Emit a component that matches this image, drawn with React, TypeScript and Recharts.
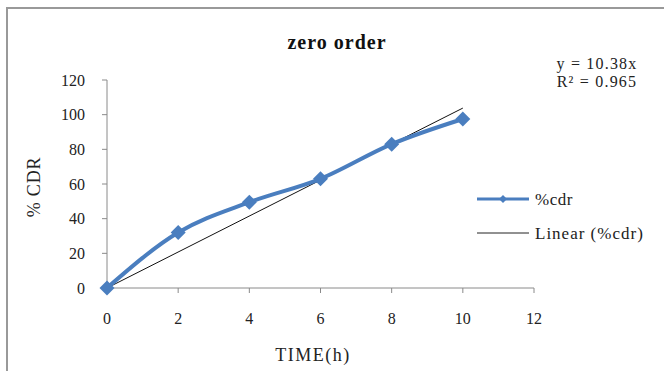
import { LineChart, Line, XAxis, YAxis } from "recharts";

const timeHours = [0, 2, 4, 6, 8, 10];
const cdrValues = [0, 32, 49.5, 63, 83, 97.5];
const trendTimes = [0, 10];
const trendValues = [0, 103.8];
const xTicks = [0, 2, 4, 6, 8, 10, 12];
const yTicks = [0, 20, 40, 60, 80, 100, 120];

const cdrData = timeHours.map((t, i) => ({ time: t, cdr: cdrValues[i] }));
const trendData = trendTimes.map((t, i) => ({ time: t, trend: trendValues[i] }));

const BLUE = "#4A7EBF";
const AXIS = "#8A8A8A";
const FONT = "'Liberation Serif', 'Times New Roman', serif";

const Diamond = (props: any) => {
  const { cx, cy } = props;
  if (cx == null || cy == null) return null;
  const r = 7.5;
  return (
    <polygon
      points={`${cx},${cy - r} ${cx + r},${cy} ${cx},${cy + r} ${cx - r},${cy}`}
      fill={BLUE}
    />
  );
};

const LegendBox = () => (
  <svg width={180} height={60} style={{ fontFamily: FONT, display: "block" }}>
    <line x1={0} y1={9} x2={52} y2={9} stroke={BLUE} strokeWidth={3} />
    <polygon points="26,5 30,9 26,13 22,9" fill={BLUE} />
    <text x={58} y={15} fontSize={17} fill="#222" letterSpacing={0.5}>%cdr</text>
    <line x1={0} y1={43} x2={52} y2={43} stroke="#222" strokeWidth={1} />
    <text x={58} y={49} fontSize={17} fill="#222" letterSpacing={1}>Linear (%cdr)</text>
  </svg>
);

export default function App() {
  return (
    <div
      style={{
        position: "absolute",
        left: 0,
        top: 0,
        width: 664,
        height: 371,
        background: "#fff",
        fontFamily: FONT,
      }}
    >
      <div
        style={{
          position: "absolute",
          left: 6,
          top: 7,
          width: 656,
          height: 370,
          borderLeft: "2px solid #999",
          borderTop: "2px solid #999",
          borderRight: "2px solid #bbb",
        }}
      />
      <LineChart
        width={664}
        height={371}
        margin={{ top: 80, right: 130, bottom: 53, left: 47 }}
        style={{ position: "absolute", left: 0, top: 0 }}
      >
        <XAxis
          dataKey="time"
          type="number"
          domain={[0, 12]}
          ticks={xTicks}
          allowDuplicatedCategory={false}
          height={30}
          tickSize={5}
          tickMargin={20}
          stroke={AXIS}
          tick={{ fill: "#222", fontSize: 16, fontFamily: FONT }}
        />
        <YAxis
          type="number"
          domain={[0, 120]}
          ticks={yTicks}
          width={60}
          tickSize={5}
          tickMargin={17}
          stroke={AXIS}
          tick={{ fill: "#222", fontSize: 16, fontFamily: FONT }}
        />
        <Line
          data={trendData}
          dataKey="trend"
          name="Linear (%cdr)"
          stroke="#111"
          strokeWidth={1}
          dot={false}
          activeDot={false}
          isAnimationActive={false}
        />
        <Line
          data={cdrData}
          dataKey="cdr"
          name="%cdr"
          type="monotone"
          stroke={BLUE}
          strokeWidth={4}
          dot={<Diamond />}
          activeDot={false}
          isAnimationActive={false}
        />
        <text x={337} y={49} textAnchor="middle" fontSize={20} fontWeight="bold" fontFamily={FONT} fill="#111" letterSpacing={1}>
          zero order
        </text>
        <text x={597} y={69} textAnchor="middle" fontSize={16} fontFamily={FONT} fill="#222" letterSpacing={1.2}>
          y = 10.38x
        </text>
        <text x={597} y={87} textAnchor="middle" fontSize={16} fontFamily={FONT} fill="#222" letterSpacing={1.2}>
          R² = 0.965
        </text>
        <text
          x={40}
          y={187}
          textAnchor="middle"
          fontSize={18}
          fontFamily={FONT}
          fill="#222"
          letterSpacing={0.8}
          transform="rotate(-90 40 187)"
        >
          % CDR
        </text>
        <text x={313} y={361} textAnchor="middle" fontSize={18} fontFamily={FONT} fill="#222" letterSpacing={1.5}>
          TIME(h)
        </text>
      </LineChart>
      <div style={{ position: "absolute", left: 477, top: 190 }}>
        <LegendBox />
      </div>
    </div>
  );
}
